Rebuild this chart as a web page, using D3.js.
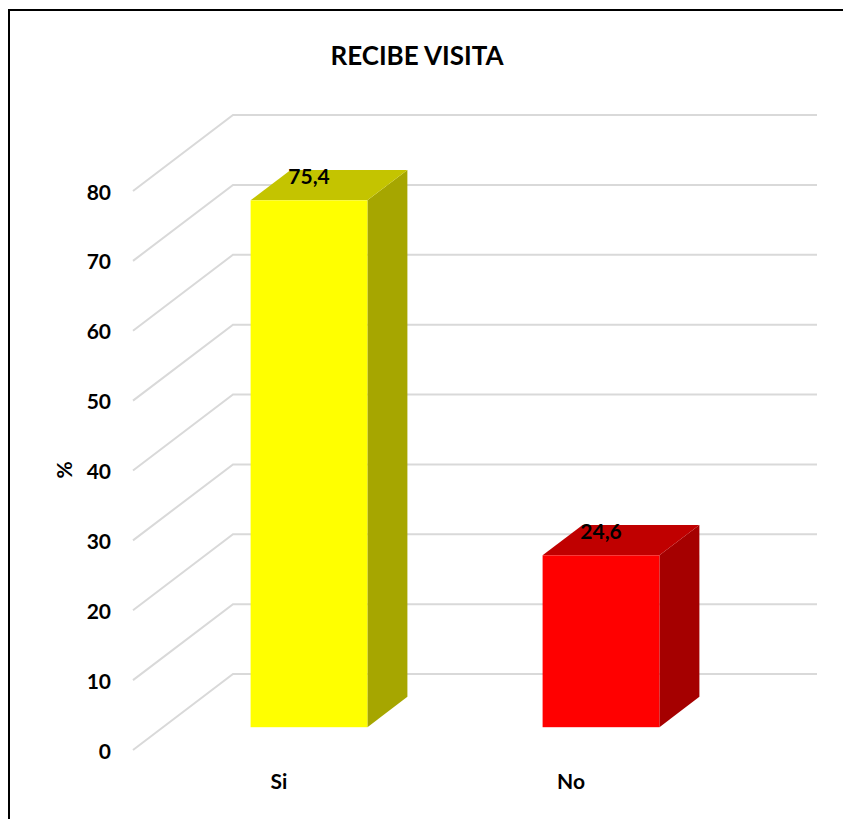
<!DOCTYPE html>
<html>
<head>
<meta charset="utf-8">
<script src="https://cdn.jsdelivr.net/npm/d3@7"></script>
<style>
  body { margin: 0; background: #fff; }
  text { font-family: Lato, "Open Sans", sans-serif; font-weight: bold; fill: #000; }
</style>
</head>
<body>
<div id="chart"></div>
<script>
const categories = ["Si", "No"];
const values = [75.4, 24.6];
const valueLabels = ["75,4", "24,6"];
const yTicks = [0, 10, 20, 30, 40, 50, 60, 70, 80];
const titleText = "RECIBE VISITA";
const yTitle = "%";

const width = 843, height = 819;
const frontColors = ["#FFFF00", "#FF0000"];
const topColors = ["#C4C400", "#C00000"];
const sideColors = ["#A6A600", "#A50000"];

// back wall + depth offset of the 3D box
const wall = {left: 233, right: 817};
const depth = {dx: -100, dy: 76};
const barNear = 0.7, barFar = 0.3;   // bar depth fractions (0 = back wall, 1 = front)

const svg = d3.select("#chart").append("svg")
    .attr("width", width)
    .attr("height", height);

svg.append("rect")
    .attr("x", 9).attr("y", 10)
    .attr("width", width + 20).attr("height", height + 20)
    .attr("fill", "#fff")
    .attr("stroke", "#000")
    .attr("stroke-width", 2);

const y = d3.scaleLinear().domain([0, 80]).range([674, 115]);
const x = d3.scaleBand().domain(categories)
    .range([wall.left, wall.right])
    .paddingInner(0.6).paddingOuter(0.3);

// project a back-wall point forward by depth fraction t
const proj = (px, py, t) => [px + depth.dx * t, py + depth.dy * t];

// gridlines: side wall diagonal + back wall horizontal
const grid = svg.append("g")
    .attr("fill", "none")
    .attr("stroke", "#D9D9D9")
    .attr("stroke-width", 2);

grid.selectAll("path")
    .data(yTicks)
    .join("path")
    .attr("d", d => {
        const f = proj(wall.left, y(d), 1);
        return `M${f[0]},${f[1]}L${wall.left},${y(d)}L${wall.right},${y(d)}`;
    });

// tick labels at the front edge
svg.append("g").selectAll("text")
    .data(yTicks)
    .join("text")
    .attr("x", proj(wall.left, 0, 1)[0] - 22)
    .attr("y", d => proj(0, y(d), 1)[1])
    .attr("text-anchor", "end")
    .attr("dominant-baseline", "central")
    .attr("font-size", 21)
    .text(d => d);

// bars
const bars = svg.append("g").selectAll("g")
    .data(categories)
    .join("g");

const dT = barNear - barFar;
bars.each(function(c, i) {
    const g = d3.select(this);
    const x0 = x(c) + depth.dx * barNear;
    const x1 = x0 + x.bandwidth();
    const yT = y(values[i]) + depth.dy * barNear;
    const yB = y(0) + depth.dy * barNear;
    const ox = -depth.dx * dT, oy = -depth.dy * dT;

    g.append("polygon")
        .attr("points", [[x1, yT], [x1 + ox, yT + oy], [x1 + ox, yB + oy], [x1, yB]].join(" "))
        .attr("fill", sideColors[i]);
    g.append("polygon")
        .attr("points", [[x0, yT], [x1, yT], [x1 + ox, yT + oy], [x0 + ox, yT + oy]].join(" "))
        .attr("fill", topColors[i]);
    g.append("rect")
        .attr("x", x0).attr("y", yT)
        .attr("width", x.bandwidth()).attr("height", yB - yT)
        .attr("fill", frontColors[i]);

    g.append("text")
        .attr("x", (x0 + x1) / 2)
        .attr("y", yT + oy + 6)
        .attr("text-anchor", "middle")
        .attr("dominant-baseline", "central")
        .attr("font-size", 21)
        .text(valueLabels[i]);
});

// category labels at the front edge
svg.append("g").selectAll("text")
    .data(categories)
    .join("text")
    .attr("x", d => proj(x(d) + x.bandwidth() / 2, 0, 1)[0])
    .attr("y", proj(0, y(0), 1)[1] + 30)
    .attr("text-anchor", "middle")
    .attr("dominant-baseline", "central")
    .attr("font-size", 21)
    .text(d => d);

svg.append("text")
    .attr("transform", "translate(63,470) rotate(-90)")
    .attr("text-anchor", "middle")
    .attr("dominant-baseline", "central")
    .attr("font-size", 21)
    .text(yTitle);

svg.append("text")
    .attr("x", 417).attr("y", 55)
    .attr("text-anchor", "middle")
    .attr("dominant-baseline", "central")
    .attr("font-size", 26)
    .text(titleText);
</script>
</body>
</html>
